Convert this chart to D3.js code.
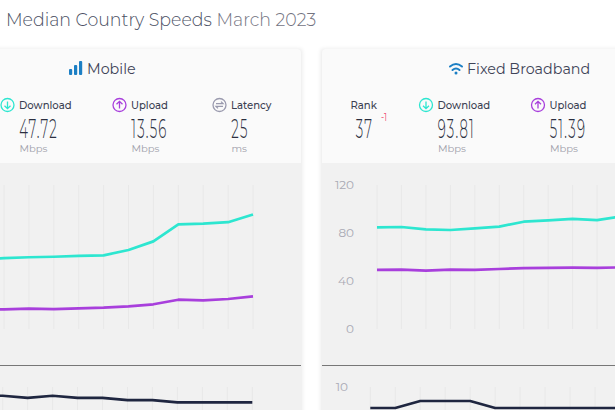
<!DOCTYPE html>
<html>
<head>
<meta charset="utf-8">
<script src="https://cdn.jsdelivr.net/npm/d3@7"></script>
<style>
html,body{margin:0;padding:0;background:#fff;overflow:hidden;}
svg{display:block;}
text{font-family:Montserrat,Inter,"Open Sans",sans-serif;}
</style>
</head>
<body>
<svg width="615" height="410"></svg>
<script>
// month index, only the visible months plus one that runs off the left edge
const mobileMonths=[-1,0,1,2,3,4,5,6,7,8,9,10];
const mobileDownload=[29.2,29.5,29.9,30.1,30.5,30.7,32.9,36.5,43.6,43.9,44.5,47.72];
const mobileUpload=[8.1,8.2,8.5,8.3,8.6,8.9,9.45,10.3,12.2,11.95,12.5,13.56];
const mobileLatency=[28,28,27,28,27,27,26,26,25,25,25,25];

const fixedMonths=[0,1,2,3,4,5,6,7,8,9,10];
const fixedDownload=[84.7,85,83,82.5,83.9,85.3,89.4,90.6,91.7,90.8,93.81];
const fixedUpload=[49.2,49.4,48.6,49.4,49.3,50,50.8,50.9,51.1,50.9,51.39];
const fixedLatency=[7,7,8,8,8,7,7,7,7,7,7];

const speedTicks=[0,40,80,120];
const latencyTicks=[10];

const mobileStats=[
    {label:'Download',value:'47.72',unit:'Mbps',icon:'down'},
    {label:'Upload',value:'13.56',unit:'Mbps',icon:'up'},
    {label:'Latency',value:'25',unit:'ms',icon:'latency'}
];
const fixedStats=[
    {label:'Rank',value:'37',unit:'',icon:null},
    {label:'Download',value:'93.81',unit:'Mbps',icon:'down'},
    {label:'Upload',value:'51.39',unit:'Mbps',icon:'up'}
];

const teal='#2de6d0', purple='#a83fdc', navy='#1f2640';
const svg=d3.select('svg');

let drawPanel=(x,w)=>{
    const defs=svg.select('defs').empty()?svg.append('defs'):svg.select('defs');
    if(defs.select('#soft').empty()){
        defs.append('filter').attr('id','soft').attr('x','-5%').attr('width','110%')
            .append('feGaussianBlur').attr('stdDeviation',2);
    }
    svg.append('rect').attr('x',x-1).attr('y',49).attr('width',w+2).attr('height',380)
        .attr('fill','#000').attr('opacity',0.09).attr('filter','url(#soft)');
    svg.append('rect').attr('x',x).attr('y',49).attr('width',w).attr('height',370).attr('rx',4)
        .attr('fill','#fafafa');
    svg.append('rect').attr('x',x).attr('y',163).attr('width',w).attr('height',260)
        .attr('fill','#f1f1f1');
    svg.append('line').attr('x1',x).attr('x2',x+w).attr('y1',365.5).attr('y2',365.5)
        .attr('stroke','#777').attr('stroke-width',1);
};

let drawIcon=(cx,cy,kind)=>{
    const colour={down:teal,up:purple,latency:'#9a9aae'}[kind];
    const g=svg.append('g').attr('transform',`translate(${cx},${cy})`)
        .attr('fill','none').attr('stroke',colour).attr('stroke-width',1.3);
    g.append('circle').attr('r',6.5);
    if(kind==='down'){
        g.append('path').attr('d','M0,-3.5V3.5M-3,0.7L0,3.7L3,0.7');
    } else if(kind==='up'){
        g.append('path').attr('d','M0,3.5V-3.5M-3,-0.7L0,-3.7L3,-0.7');
    } else {
        g.append('path').attr('d','M-3.5,-1.4H3.5L1.5,-3.4M3.5,1.4H-3.5L-1.5,3.4');
    }
};

let drawStat=(x,stat)=>{
    if(stat.icon) drawIcon(x-6.5,105,stat.icon);
    svg.append('text').attr('x',stat.icon?x+5:x).attr('y',109).text(stat.label)
        .attr('font-size',10.1).attr('font-weight',500).attr('fill','#3b3f52');
    // the numerals are a tall condensed face, so squeeze a light one
    svg.append('text').attr('transform',`translate(${x+5.2},138) scale(0.52,1)`).text(stat.value)
        .attr('font-family','Roboto').attr('font-size',25.5).attr('font-weight',300)
        .attr('letter-spacing',2.4).attr('fill','#2b2f40');
    svg.append('text').attr('x',x+5.5).attr('y',151.5).text(stat.unit)
        .attr('font-size',10).attr('fill','#a0a0aa');
};

let drawChart=(months,down,up,latency,xSpeed,xLatency,ySpeed,yLatency)=>{
    const grid=svg.append('g').attr('stroke','#e8e8e8').attr('stroke-width',1);
    grid.selectAll('line').data(months).join('line')
        .attr('x1',d=>xSpeed(d)).attr('x2',d=>xSpeed(d))
        .attr('y1',ySpeed.range()[1]).attr('y2',ySpeed.range()[0]);
    const gridB=svg.append('g').attr('stroke','#e8e8e8').attr('stroke-width',1);
    gridB.selectAll('line').data(months).join('line')
        .attr('x1',d=>xLatency(d)).attr('x2',d=>xLatency(d))
        .attr('y1',yLatency.range()[1]).attr('y2',yLatency.range()[0]);

    const lineSpeed=d3.line().x((d,i)=>xSpeed(months[i])).y(d=>ySpeed(d));
    const lineLatency=d3.line().x((d,i)=>xLatency(months[i])).y(d=>yLatency(d));
    [[down,teal,lineSpeed],[up,purple,lineSpeed],[latency,navy,lineLatency]].forEach(([vals,col,fn])=>{
        svg.append('path').datum(vals).attr('d',fn)
            .attr('fill','none').attr('stroke',col).attr('stroke-width',2.7).attr('stroke-linejoin','round');
    });
};

let tickLabels=(ticks,scale,x)=>{
    svg.append('g').selectAll('text').data(ticks).join('text')
        .attr('x',x).attr('y',d=>scale(d)+4).attr('text-anchor','end')
        .attr('font-size',12).attr('fill','#a9a9b4').text(d=>d);
};

svg.append('text').attr('transform','translate(6,26) scale(0.94,1)').attr('font-size',18.5).attr('font-weight',300).attr('fill','#4a4f63')
    .text('Median Country Speeds').append('tspan').attr('fill','#73737f').attr('dx',5).text('March 2023');

drawPanel(-30,331);
drawPanel(322,320);

// Mobile
svg.append('g').attr('fill','#1c7fc4').selectAll('rect').data([[69,6],[74,10],[79,14]]).join('rect')
    .attr('x',d=>d[0]).attr('y',d=>75-d[1]).attr('width',3.2).attr('height',d=>d[1]).attr('rx',1);
svg.append('text').attr('x',87).attr('y',74).attr('font-size',14.3).attr('fill','#3f4458').text('Mobile');
mobileStats.forEach((s,i)=>drawStat([14,126,226][i],s));

// Fixed broadband
svg.append('g').attr('fill','none').attr('stroke','#1c7fc4').attr('stroke-width',2).attr('stroke-linecap','round')
    .selectAll('path').data(['M450,66.5Q456,61.5 462,66.5','M452.5,70Q456,67 459.5,70']).join('path').attr('d',d=>d);
svg.append('circle').attr('cx',456).attr('cy',73).attr('r',1.5).attr('fill','#1c7fc4');
svg.append('text').attr('x',467).attr('y',74).attr('font-size',14.3).attr('fill','#3f4458').text('Fixed Broadband');
fixedStats.forEach((s,i)=>drawStat([350.5,432.5,544.5][i],s));
svg.append('text').attr('transform','translate(381,120.5) scale(0.75,1)').attr('font-family','Roboto')
    .attr('font-size',11).attr('fill','#ef3e6d').text('-1');

const xMobile=d3.scaleLinear().domain([0,10]).range([4,253]);
const xMobileLat=d3.scaleLinear().domain([0,10]).range([2.7,252.3]);
const yMobile=d3.scaleLinear().domain([0,60]).range([329,185]);
const yMobileLat=d3.scaleLinear().domain([0,32]).range([457,387]);
const xFixed=d3.scaleLinear().domain([0,10]).range([377,621.5]);
const xFixedLat=d3.scaleLinear().domain([0,10]).range([370.3,620]);
const yFixed=d3.scaleLinear().domain([0,120]).range([329,185]);
const yFixedLat=d3.scaleLinear().domain([0,10]).range([457,387]);

drawChart(mobileMonths,mobileDownload,mobileUpload,mobileLatency,xMobile,xMobileLat,yMobile,yMobileLat);
drawChart(fixedMonths,fixedDownload,fixedUpload,fixedLatency,xFixed,xFixedLat,yFixed,yFixedLat);
tickLabels(speedTicks,yFixed,354);
tickLabels(latencyTicks,yFixedLat,348);
</script>
</body>
</html>
